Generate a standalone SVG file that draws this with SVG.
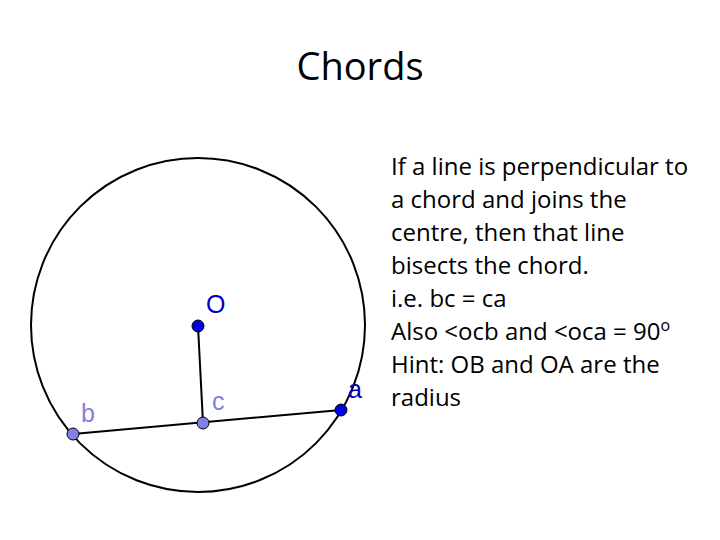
<svg xmlns="http://www.w3.org/2000/svg" width="720" height="540" viewBox="0 0 720 540">
<style>
.t{font-family:"Open Sans","Liberation Sans",sans-serif;font-size:24px;fill:#000}
.l{font-family:"Liberation Sans",sans-serif;font-size:25px}
.pt{stroke:#000;stroke-width:1}
</style>
<rect width="720" height="540" fill="#fff"/>
<text x="360" y="80" text-anchor="middle" font-family="Open Sans, Liberation Sans, sans-serif" font-size="38">Chords</text>
<g id="circle"><circle cx="198" cy="325" r="167" fill="none" stroke="#000" stroke-width="2"/></g>
<g id="connectors" stroke="#000" stroke-width="2">
<line x1="198" y1="326" x2="203" y2="423"/>
<line x1="73" y1="434" x2="341" y2="410"/>
</g>
<g id="O"><circle class="pt" cx="198" cy="326" r="6" fill="#0000e0"/><text class="l" x="206" y="313" fill="#0000c0">O</text></g>
<g id="c"><circle class="pt" cx="203" cy="423" r="6" fill="#8080e8"/><text class="l" x="212" y="410" fill="#8080e0">c</text></g>
<g id="b"><circle class="pt" cx="73" cy="434" r="6" fill="#8080e8"/><text class="l" x="81" y="422" fill="#8080e0">b</text></g>
<g id="a"><circle class="pt" cx="341" cy="410" r="6" fill="#0000e0"/><text class="l" x="348" y="398" fill="#0000c0">a</text></g>
<g id="text">
<text class="t" x="391" y="175">If a line is perpendicular to</text>
<text class="t" x="391" y="208">a chord and joins the</text>
<text class="t" x="391" y="241">centre, then that line</text>
<text class="t" x="391" y="274">bisects the chord.</text>
<text class="t" x="391" y="307">i.e. bc = ca</text>
<text class="t" x="391" y="340">Also &lt;ocb and &lt;oca = 90<tspan font-size="16" dy="-9">o</tspan></text>
<text class="t" x="391" y="373">Hint: OB and OA are the</text>
<text class="t" x="391" y="406">radius</text>
</g>
</svg>
